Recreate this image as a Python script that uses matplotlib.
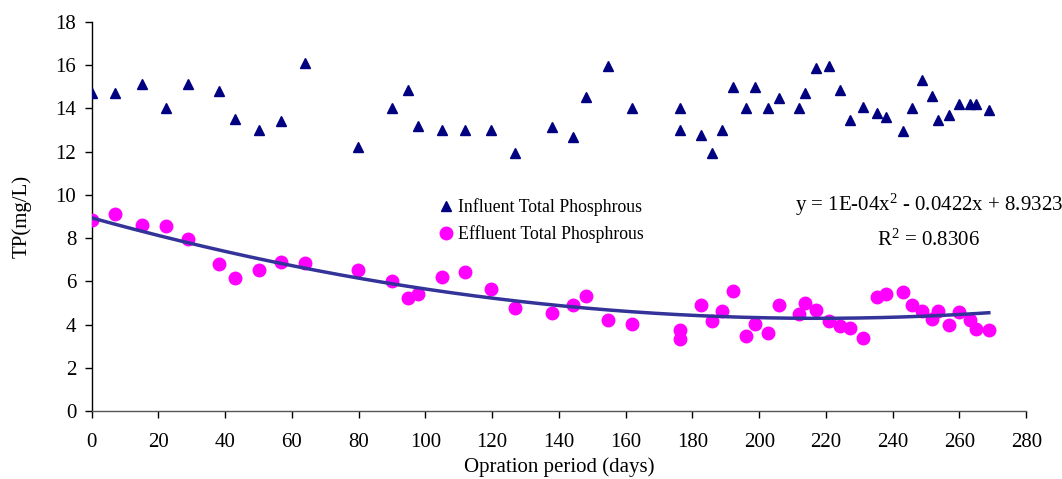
import numpy as np
import matplotlib
matplotlib.use('Agg')
import matplotlib.pyplot as plt

plt.rcParams['font.family'] = ['Liberation Serif', 'DejaVu Serif']
plt.rcParams['mathtext.fontset'] = 'custom'
plt.rcParams['mathtext.rm'] = 'Liberation Serif'
plt.rcParams['mathtext.default'] = 'regular'

# ------------------------------------------------------------
# Data
# ------------------------------------------------------------
days = [0, 7.0, 15.0, 22.2, 28.8, 38.1, 42.9, 50.1, 56.7, 63.9,
        79.9, 90.1, 94.8, 97.9, 105.0, 111.8, 119.7, 126.8, 137.9, 144.1,
        148.2, 154.8, 162.0, 176.2, 176.2, 182.7, 185.9, 188.9, 192.1, 196.0,
        198.7, 202.7, 205.8, 212.0, 213.8, 216.9, 221.0, 224.1, 227.2, 231.2,
        235.2, 237.9, 243.1, 245.7, 248.8, 251.9, 253.7, 256.8, 259.9, 263.1,
        264.9, 268.8]

influent_tp = [14.7, 14.7, 15.15, 14.0, 15.15, 14.8, 13.5, 13.0, 13.4, 16.1,
               12.2, 14.0, 14.87, 13.17, 13.0, 13.0, 13.0, 11.95, 13.14, 12.7,
               14.52, 15.97, 14.0, 14.0, 13.0, 12.76, 11.95, 13.0, 15.0, 14.0,
               15.0, 14.0, 14.5, 14.0, 14.72, 15.88, 15.97, 14.87, 13.48, 14.07,
               13.78, 13.62, 12.97, 14.0, 15.3, 14.58, 13.48, 13.7, 14.21, 14.21,
               14.21, 13.92]

effluent_tp = [8.84, 9.12, 8.61, 8.55, 7.96, 6.80, 6.14, 6.51, 6.88, 6.83,
               6.51, 6.01, 5.21, 5.41, 6.22, 6.45, 5.63, 4.76, 4.53, 4.92,
               5.33, 4.19, 4.02, 3.77, 3.35, 4.92, 4.17, 4.64, 5.57, 3.45,
               4.04, 3.60, 4.90, 4.47, 4.98, 4.68, 4.17, 3.94, 3.82, 3.40,
               5.26, 5.41, 5.51, 4.90, 4.64, 4.25, 4.64, 3.96, 4.59, 4.22,
               3.80, 3.74]

days = np.array(days)
effluent_tp = np.array(effluent_tp)

# polynomial (order 2) trendline of the effluent series
coef = np.polyfit(days, effluent_tp, 2)
x_fit = np.linspace(days.min(), days.max(), 200)
y_fit = np.polyval(coef, x_fit)

# ------------------------------------------------------------
# Plot
# ------------------------------------------------------------
fig = plt.figure(figsize=(10.62, 4.79), dpi=100)
ax = fig.add_axes([0.0863, 0.142, 0.880, 0.812])

ax.plot(days, influent_tp, linestyle='none', marker='^', color='#000080',
        markersize=6.5, label='Influent Total Phosphrous', zorder=3)
ax.plot(days, effluent_tp, linestyle='none', marker='o', color='#FF00FF',
        markersize=9, label='Effluent Total Phosphrous', zorder=3)
ax.plot(x_fit, y_fit, color='#333399', linewidth=2.5, zorder=4)

ax.set_xlim(0, 280)
ax.set_ylim(0, 18)
ax.set_xticks(np.arange(0, 281, 20))
ax.set_yticks(np.arange(0, 19, 2))

for side in ['top', 'right']:
    ax.spines[side].set_visible(False)
ax.spines['left'].set_linewidth(1.0)
ax.spines['bottom'].set_linewidth(1.0)
ax.spines['bottom'].set_color('#555555')
ax.tick_params(axis='both', direction='out', length=5, width=1,
               labelsize=15, pad=6)
ax.tick_params(axis='x', pad=11)

ax.set_xlabel('Opration period (days)', fontsize=15, labelpad=4)
ax.set_ylabel('TP(mg/L)', fontsize=15, labelpad=17)

leg = ax.legend(loc='upper left', bbox_to_anchor=(0.36, 0.565), frameon=False,
                fontsize=12.8, handletextpad=0.1, labelspacing=0.5,
                handlelength=1.2, borderaxespad=0)

ax.text(1.04, 0.53, 'y = 1E-04x$^{2}$ - 0.0422x + 8.9323', transform=ax.transAxes,
        ha='right', va='center', fontsize=15)
ax.text(0.895, 0.44, 'R$^{2}$ = 0.8306', transform=ax.transAxes,
        ha='center', va='center', fontsize=15)

fig.savefig('out.png', dpi=100)
